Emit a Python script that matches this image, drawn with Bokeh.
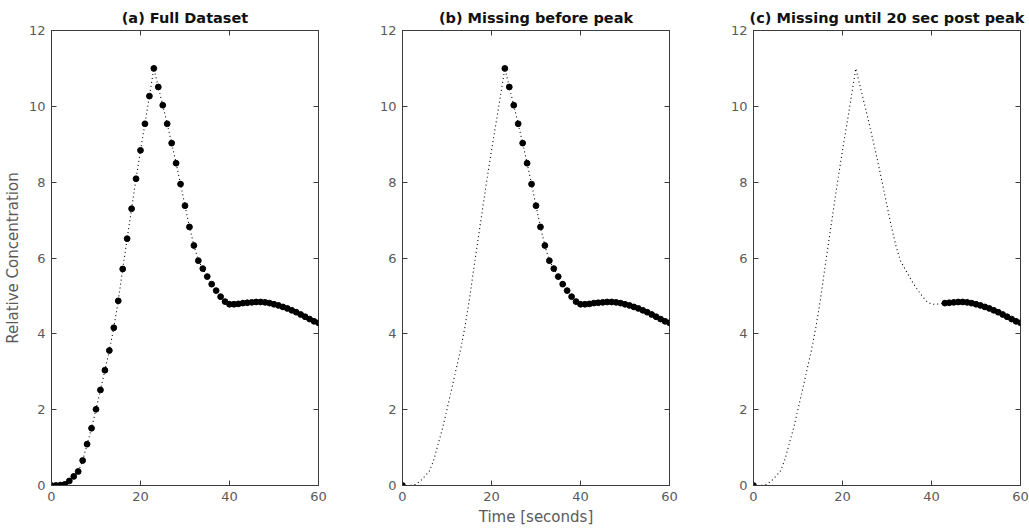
from bokeh.plotting import figure
from bokeh.layouts import row
from bokeh.models import Range1d, LinearAxis, FixedTicker, ColumnDataSource
from bokeh.embed import file_html
from bokeh.resources import INLINE

# ---- data ----
time_s = list(range(0, 61))
concentration = [0.0, 0.0, 0.01, 0.03, 0.12, 0.24, 0.37, 0.66, 1.09, 1.51,
                 2.01, 2.52, 3.04, 3.56, 4.16, 4.87, 5.71, 6.51, 7.30, 8.09,
                 8.84, 9.54, 10.27, 11.0, 10.51, 10.03, 9.54, 9.03, 8.50, 7.95,
                 7.38, 6.82, 6.33, 5.93, 5.72, 5.51, 5.31, 5.14, 4.98, 4.85,
                 4.78, 4.78, 4.79, 4.81, 4.82, 4.83, 4.84, 4.84, 4.83, 4.81,
                 4.78, 4.75, 4.71, 4.67, 4.62, 4.57, 4.51, 4.45, 4.39, 4.33,
                 4.29]
titles = ["(a) Full Dataset", "(b) Missing before peak",
          "(c) Missing until 20 sec post peak"]
# indices of observed samples in each panel
observed_a = list(range(0, 61))
observed_b = [0] + list(range(23, 61))
observed_c = [0] + list(range(43, 61))
x_ticks = [0, 20, 40, 60]
y_ticks = [0, 2, 4, 6, 8, 10, 12]
x_label = "Time [seconds]"
y_label = "Relative Concentration"

FONT = "DejaVu Sans"
AX = "#3c3c3c"
LBL = "#5a5a5a"


def make_panel(title, observed, left, right, show_x_label, show_y_label):
    p = figure(frame_width=267, frame_height=455,
               min_border_left=left, min_border_right=right,
               min_border_top=30, min_border_bottom=44,
               x_range=Range1d(0, 60), y_range=Range1d(0, 12),
               output_backend="svg", toolbar_location=None,
               title=title)
    p.title.align = "center"
    p.title.text_font = FONT
    p.title.text_font_size = "14.5px"
    p.title.text_font_style = "bold"
    p.title.text_color = "#111111"
    p.title.offset = 0
    p.title.standoff = 10
    p.grid.visible = False
    p.outline_line_color = AX
    p.outline_line_width = 1
    p.background_fill_color = "white"
    p.border_fill_color = "white"

    for ax, ticks in ((p.xaxis[0], x_ticks), (p.yaxis[0], y_ticks)):
        ax.ticker = FixedTicker(ticks=ticks)
        ax.major_tick_in = 5
        ax.major_tick_out = 0
        ax.minor_tick_line_color = None
        ax.axis_line_color = AX
        ax.major_tick_line_color = AX
        ax.major_label_text_font = FONT
        ax.major_label_text_font_size = "13px"
        ax.major_label_text_color = LBL
        ax.major_label_standoff = 6
        ax.axis_label_text_font = FONT
        ax.axis_label_text_font_size = "15px"
        ax.axis_label_text_font_style = "normal"
        ax.axis_label_text_color = LBL
        ax.axis_label_standoff = 4
    if show_x_label:
        p.xaxis[0].axis_label = x_label
    if show_y_label:
        p.yaxis[0].axis_label = y_label

    # mirrored ticks on top and right (no labels drawn)
    for side, ticks in (("right", y_ticks), ("above", x_ticks)):
        ax = LinearAxis(ticker=FixedTicker(ticks=ticks))
        ax.major_tick_in = 5
        ax.major_tick_out = 0
        ax.minor_tick_line_color = None
        ax.axis_line_color = None
        ax.major_tick_line_color = AX
        ax.major_label_text_font_size = "1px"
        ax.major_label_text_color = None
        ax.major_label_standoff = 0
        p.add_layout(ax, side)

    full = ColumnDataSource(dict(t=time_s, c=concentration))
    obs = ColumnDataSource(dict(t=[time_s[i] for i in observed],
                                c=[concentration[i] for i in observed]))
    p.line("t", "c", source=full, line_color="black", line_width=1.1,
           line_dash="1 3")
    p.scatter("t", "c", source=obs, size=5.8, fill_color="black",
              line_color="black")
    return p


pa = make_panel(titles[0], observed_a, 48, 12, False, True)
pb = make_panel(titles[1], observed_b, 72, 12, True, False)
pc = make_panel(titles[2], observed_c, 72, 12, False, False)

layout = row(pa, pb, pc, spacing=0)
open("out.html", "w").write(file_html(layout, INLINE))
